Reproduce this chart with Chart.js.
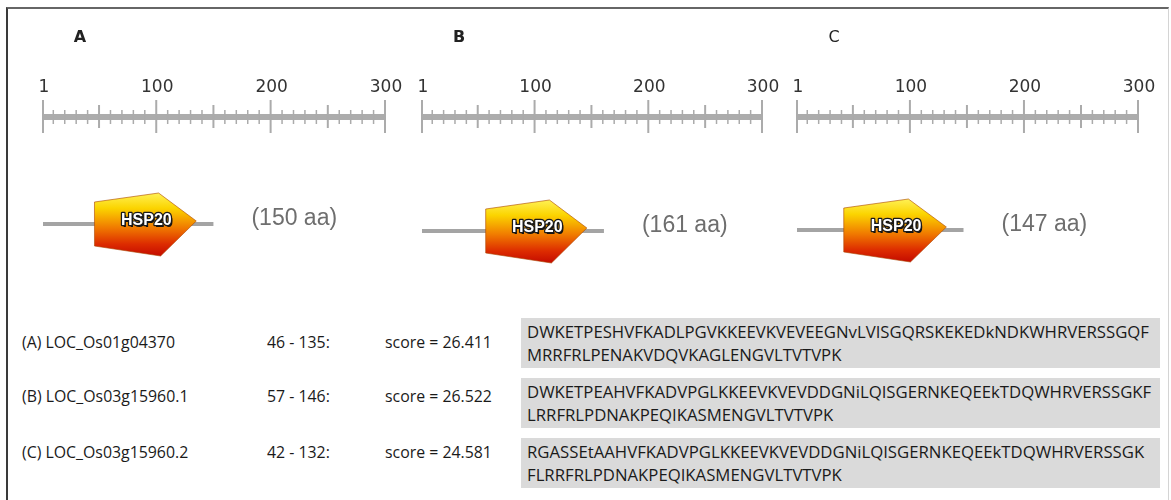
<!DOCTYPE html>
<html>
<head>
<meta charset="utf-8">
<script src="https://cdn.jsdelivr.net/npm/chart.js@4/dist/chart.umd.min.js"></script>
<style>
  html, body { margin: 0; padding: 0; background: #fff; }
  #fig { position: relative; width: 1171px; height: 500px; overflow: hidden; background: #fff; }
  .frame { position: absolute; left: 6px; top: 7px; width: 1160px; height: 520px;
           border-left: 2px solid #3a3a3a; border-top: 2px solid #666; border-right: 1px solid #d4d4d4; }
  .panel { position: absolute; top: 0; }
  .cell, .seqline { position: absolute; white-space: nowrap; color: #1a1a1a; font-family: "Open Sans", sans-serif;
          transform-origin: 0 50%; }
  .seqbox { position: absolute; background: #dadada; }
</style>
</head>
<body>
<div id="fig">
  <div class="frame"></div>
  <div class="panel" id="pA"><canvas id="cA" width="412" height="300"></canvas></div>
  <div class="panel" id="pB"><canvas id="cB" width="390" height="300"></canvas></div>
  <div class="panel" id="pC"><canvas id="cC" width="391" height="300"></canvas></div>
  <div id="table"></div>
</div>
<script>
// ---- data ----
const panelLetters  = ['A', 'B', 'C'];
const locusIds      = ['LOC_Os01g04370', 'LOC_Os03g15960.1', 'LOC_Os03g15960.2'];
const proteinLength = [150, 161, 147];
const domainName    = ['HSP20', 'HSP20', 'HSP20'];
const domainStart   = [46, 57, 42];
const domainEnd     = [135, 146, 132];
const domainScore   = ['26.411', '26.522', '24.581'];
const rulerMin      = 1;
const rulerMax      = 300;
const rulerLabels   = [1, 100, 200, 300];
const domainSeqLine1 = [
  'DWKETPESHVFKADLPGVKKEEVKVEVEEGNvLVISGQRSKEKEDkNDKWHRVERSSGQF',
  'DWKETPEAHVFKADVPGLKKEEVKVEVDDGNiLQISGERNKEQEEkTDQWHRVERSSGKF',
  'RGASSEtAAHVFKADVPGLKKEEVKVEVDDGNiLQISGERNKEQEEkTDQWHRVERSSGK'
];
const domainSeqLine2 = [
  'MRRFRLPENAKVDQVKAGLENGVLTVTVPK',
  'LRRFRLPDNAKPEQIKASMENGVLTVTVPK',
  'FLRRFRLPDNAKPEQIKASMENGVLTVTVPK'
];

// ---- layout of the three map panels ----
const panelLayout = [
  { canvas: 'cA', box: 'pA', left: 0,   width: 412, padL: 43, padR: 27, base: 224 },
  { canvas: 'cB', box: 'pB', left: 400, width: 390, padL: 22, padR: 28, base: 231 },
  { canvas: 'cC', box: 'pC', left: 780, width: 391, padL: 17, padR: 33, base: 230 }
];
const RULER_Y = 117;
const CANVAS_H = 300;

function strokeLine(ctx, x0, y0, x1, y1) {
  ctx.beginPath(); ctx.moveTo(x0, y0); ctx.lineTo(x1, y1); ctx.stroke();
}

// ruler ticks, labels, domain glyph and length caption
const proteinMapPlugin = {
  id: 'proteinMap',
  afterDatasetsDraw(chart, args, opts) {
    const { ctx, scales: { x, y } } = chart;
    const i = opts.index;
    const yr = y.getPixelForValue(1);
    const yb = y.getPixelForValue(0);
    ctx.save();

    // minor ticks every 10, medium every 50
    ctx.strokeStyle = '#ababab';
    for (let v = 10; v < rulerMax; v += 10) {
      if (v % 100 === 0) continue;
      const px = x.getPixelForValue(v);
      const mid = v % 50 === 0;
      ctx.lineWidth = mid ? 2 : 1.5;
      strokeLine(ctx, px, yr - (mid ? 12 : 7), px, yr + (mid ? 11 : 7));
    }
    // major ticks + labels
    ctx.lineWidth = 2;
    ctx.fillStyle = '#333';
    ctx.font = '17px "DejaVu Sans"';
    ctx.textAlign = 'center';
    ctx.textBaseline = 'middle';
    rulerLabels.forEach(v => {
      const px = x.getPixelForValue(v);
      strokeLine(ctx, px, yr - 17, px, yr + 16);
      ctx.fillText(String(v), px + 1, yr - 29);
    });

    // panel letter
    ctx.font = (i < 2 ? 'bold ' : '') + '16px "DejaVu Sans"';
    ctx.fillStyle = '#222';
    ctx.fillText(panelLetters[i], x.getPixelForValue(rulerMin) + 37, 38);

    // domain glyph (pentagon arrow)
    const s = x.getPixelForValue(domainStart[i]);
    const e = x.getPixelForValue(domainEnd[i]);
    const w = e - s;
    const k = s + 0.63 * w;
    const g = ctx.createLinearGradient(0, yb - 32, 0, yb + 33);
    g.addColorStop(0, '#fff35a');
    g.addColorStop(0.25, '#fbd400');
    g.addColorStop(0.55, '#f07a00');
    g.addColorStop(0.8, '#dd2c00');
    g.addColorStop(1, '#c20800');
    ctx.beginPath();
    ctx.moveTo(s, yb - 22);
    ctx.lineTo(k, yb - 31);
    ctx.lineTo(e, yb - 3);
    ctx.lineTo(k + 2, yb + 32);
    ctx.lineTo(s, yb + 22);
    ctx.closePath();
    ctx.fillStyle = g;
    ctx.fill();
    ctx.lineWidth = 1;
    ctx.strokeStyle = 'rgba(170,70,0,0.6)';
    ctx.stroke();

    // domain name
    const tx = (s + e) / 2 + 1, ty = yb - 3;
    ctx.font = 'bold 16px "Liberation Sans"';
    ctx.textAlign = 'center';
    ctx.lineJoin = 'round';
    ctx.fillStyle = '#111';
    ctx.fillText(domainName[i], tx + 1.5, ty + 1.5);
    ctx.strokeStyle = '#1a1a1a';
    ctx.lineWidth = 2.5;
    ctx.strokeText(domainName[i], tx, ty);
    ctx.fillStyle = '#ffffff';
    ctx.fillText(domainName[i], tx, ty);

    // protein length caption
    ctx.font = '23px "Liberation Sans"';
    ctx.textAlign = 'left';
    ctx.fillStyle = '#6e6e6e';
    ctx.fillText('(' + proteinLength[i] + ' aa)', x.getPixelForValue(proteinLength[i]) + 38, yb - 5);

    ctx.restore();
  }
};

panelLayout.forEach((p, i) => {
  const box = document.getElementById(p.box);
  box.style.left = p.left + 'px';
  box.style.width = p.width + 'px';
  new Chart(document.getElementById(p.canvas), {
    type: 'scatter',
    data: {
      datasets: [
        { // ruler bar
          data: [{ x: rulerMin, y: 1 }, { x: rulerMax, y: 1 }],
          showLine: true, borderColor: '#acacac', borderWidth: 6, pointRadius: 0,
          borderCapStyle: 'butt', clip: false
        },
        { // protein backbone
          data: [{ x: 1, y: 0 }, { x: proteinLength[i], y: 0 }],
          showLine: true, borderColor: '#a4a4a4', borderWidth: 4, pointRadius: 0,
          borderCapStyle: 'butt', clip: false
        }
      ]
    },
    options: {
      responsive: false,
      animation: false,
      events: [],
      layout: { padding: { left: p.padL, right: p.padR, top: RULER_Y, bottom: CANVAS_H - p.base } },
      scales: {
        x: { type: 'linear', min: rulerMin, max: rulerMax, display: false },
        y: { type: 'linear', min: 0, max: 1, display: false }
      },
      plugins: {
        legend: { display: false },
        tooltip: { enabled: false },
        proteinMap: { index: i }
      }
    },
    plugins: [proteinMapPlugin]
  });
});

// ---- domain table ----
const rowY    = [343, 397, 453];
const boxTop  = [318, 378, 438];
const table = document.getElementById('table');
const measure = document.createElement('canvas').getContext('2d');
const FAMILY = '"Open Sans"';
const LABEL_PX = 16.5, SEQ_PX = 17;
function squeeze(text, px, target) {
  measure.font = px + 'px ' + FAMILY;
  return target / measure.measureText(text).width;
}
const labelScale = squeeze('(A) ' + locusIds[0], LABEL_PX, 153);
const seqScale   = squeeze(domainSeqLine1[0], SEQ_PX, 622);

function addText(cls, text, left, top, size, sx) {
  const d = document.createElement('div');
  d.className = cls;
  d.textContent = text;
  d.style.left = left + 'px';
  d.style.top = top + 'px';
  d.style.fontSize = size + 'px';
  d.style.lineHeight = '1';
  d.style.transform = 'translateY(-55%) scaleX(' + sx + ')';
  table.appendChild(d);
}
locusIds.forEach((id, i) => {
  addText('cell', '(' + panelLetters[i] + ') ' + id, 22, rowY[i], LABEL_PX, labelScale);
  addText('cell', domainStart[i] + ' - ' + domainEnd[i] + ':', 267, rowY[i], LABEL_PX, labelScale);
  addText('cell', 'score = ' + domainScore[i], 385, rowY[i], LABEL_PX, labelScale);
  const b = document.createElement('div');
  b.className = 'seqbox';
  b.style.left = '521px'; b.style.top = boxTop[i] + 'px';
  b.style.width = '639px'; b.style.height = '50px';
  table.appendChild(b);
  addText('seqline', domainSeqLine1[i], 527, boxTop[i] + 14, SEQ_PX, seqScale);
  addText('seqline', domainSeqLine2[i], 527, boxTop[i] + 37, SEQ_PX, seqScale);
});
</script>
</body>
</html>
